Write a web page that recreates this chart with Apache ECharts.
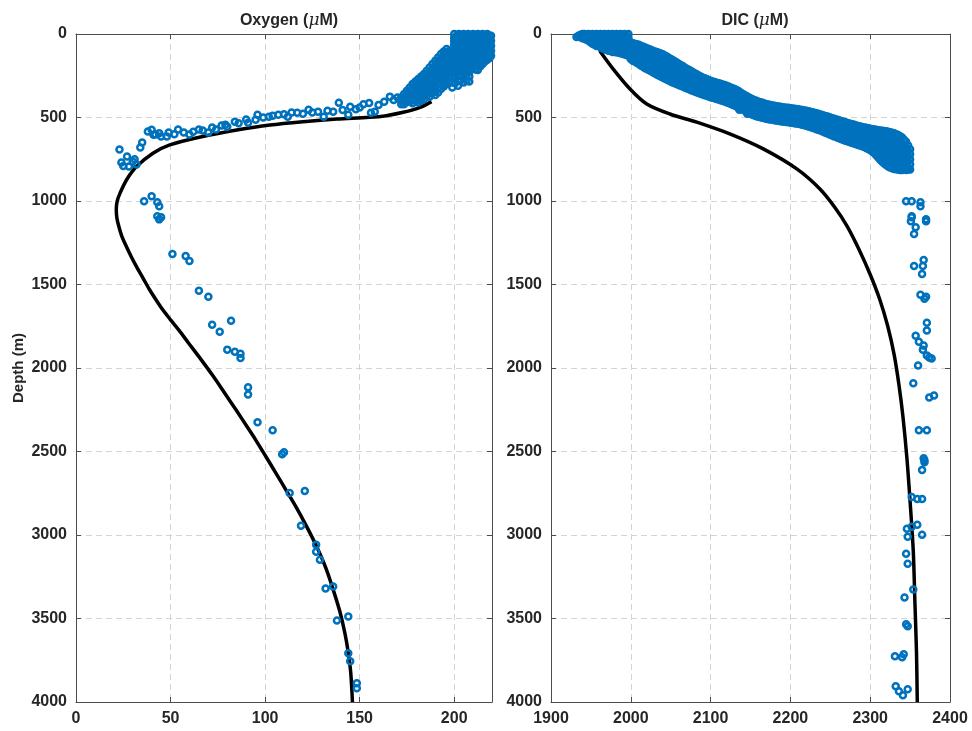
<!DOCTYPE html>
<html><head><meta charset="utf-8">
<script src="https://cdn.jsdelivr.net/npm/echarts@6/dist/echarts.min.js"></script>
<style>html,body{margin:0;padding:0;background:#fff}#c{width:972px;height:731px}</style>
</head><body><div id="c"></div>
<script>
// ---- data ----
const panelTitles = ['Oxygen', 'DIC'];
const depthTicks = [0, 500, 1000, 1500, 2000, 2500, 3000, 3500, 4000];
const oxygenTicks = [0, 50, 100, 150, 200];
const dicTicks = [1900, 2000, 2100, 2200, 2300, 2400];

// model curve: [oxygen, depth]
const oxygenModel = [[188,405],[182,439],[173,469],[164,489],[155,499],[138,509],[120,525],[102.5,545],[85,575],[67,614],[49.6,664],[40.7,714],[32,794],[26.7,874],[23.4,950],[21.8,1000],[21.3,1050],[21.6,1100],[22.6,1150],[24.2,1210],[26.7,1274],[29.3,1335],[32,1393],[35.5,1463],[39,1533],[42.8,1600],[46,1653],[49.9,1710],[54.3,1772],[59.5,1850],[65,1932],[72.6,2050],[78.6,2150],[84.6,2250],[90.4,2350],[95,2430],[100.4,2530],[105.7,2629],[111,2730],[116.2,2829],[122,2950],[127.2,3068],[132.2,3200],[136,3327],[139.5,3457],[142.2,3587],[144,3705],[145.3,3826],[146.2,4000]];

// observations: [oxygen, depth]
const oxygenObs = [
[200,0],[200,22],[200,44],[200,66],[200,88],[200,110],
[202.5,0],[202.5,22],[202.5,44],[202.5,66],[202.5,88],[202.5,110],[202.5,132],
[205,0],[205,22],[205,44],[205,66],[205,88],[205,110],[205,132],[205,154],
[207.5,0],[207.5,22],[207.5,44],[207.5,66],[207.5,88],[207.5,110],[207.5,132],[207.5,154],[207.5,176],[207.5,200],
[210,0],[210,22],[210,44],[210,66],[210,88],[210,110],[210,132],[210,154],[210,176],[210,205],
[212.5,0],[212.5,22],[212.5,44],[212.5,66],[212.5,88],[212.5,110],[212.5,132],[212.5,154],[212.5,176],[212.5,215],
[215,0],[215,22],[215,44],[215,66],[215,88],[215,110],[215,132],[215,154],[215,180],
[217.5,0],[217.5,22],[217.5,44],[217.5,66],[217.5,88],[217.5,110],[217.5,132],[217.5,154],
[219.5,10],[219.5,40],[219.5,70],[219.5,100],[219.5,130],
[201.25,11],[201.25,33],[201.25,55],[201.25,77],[201.25,99],[201.25,121],
[203.75,11],[203.75,33],[203.75,55],[203.75,77],[203.75,99],[203.75,121],[203.75,143],
[206.25,11],[206.25,33],[206.25,55],[206.25,77],[206.25,99],[206.25,121],[206.25,143],[206.25,165],[206.25,190],
[208.75,11],[208.75,33],[208.75,55],[208.75,77],[208.75,99],[208.75,121],[208.75,143],[208.75,165],[208.75,190],[208.75,212],
[211.25,11],[211.25,33],[211.25,55],[211.25,77],[211.25,99],[211.25,121],[211.25,143],[211.25,165],[211.25,190],[211.25,212],
[213.75,11],[213.75,33],[213.75,55],[213.75,77],[213.75,99],[213.75,121],[213.75,143],[213.75,165],[213.75,195],
[216.25,11],[216.25,33],[216.25,55],[216.25,77],[216.25,99],[216.25,121],[216.25,143],[216.25,165],
[218.75,11],[218.75,33],[218.75,55],[218.75,77],[218.75,99],[218.75,121],[218.75,143],
[172,380],[172,400],[172,420],
[175,340],[175,360],[175,385],[175,405],
[178,300],[178,320],[178,345],[178,370],[178,395],[178,415],
[181,270],[181,290],[181,315],[181,340],[181,365],[181,390],[181,410],
[184,240],[184,265],[184,290],[184,315],[184,340],[184,365],[184,390],
[187,200],[187,225],[187,250],[187,275],[187,300],[187,325],[187,350],[187,375],
[190,160],[190,185],[190,210],[190,235],[190,260],[190,285],[190,310],[190,340],[190,365],
[193,120],[193,145],[193,170],[193,195],[193,220],[193,245],[193,270],[193,300],[193,330],
[196,90],[196,115],[196,140],[196,165],[196,190],[196,215],[196,240],[196,270],[196,300],
[199,130],[199,155],[199,180],[199,205],[199,230],[199,260],[199,290],[199,320],
[202,150],[202,175],[202,200],[202,225],[202,250],[202,280],[202,310],
[205,180],[205,205],[205,230],[205,260],[205,290],
[208,225],[208,255],[208,285],
[173.5,360],[173.5,380],[173.5,400],[173.5,420],
[176.5,320],[176.5,340],[176.5,362],[176.5,385],[176.5,405],
[179.5,285],[179.5,305],[179.5,330],[179.5,355],[179.5,380],[179.5,400],
[182.5,255],[182.5,278],[182.5,300],[182.5,325],[182.5,350],[182.5,375],[182.5,400],
[185.5,220],[185.5,245],[185.5,270],[185.5,295],[185.5,320],[185.5,345],[185.5,370],
[188.5,180],[188.5,205],[188.5,230],[188.5,255],[188.5,280],[188.5,305],[188.5,330],[188.5,355],
[191.5,140],[191.5,165],[191.5,190],[191.5,215],[191.5,240],[191.5,265],[191.5,290],[191.5,320],[191.5,350],
[194.5,105],[194.5,130],[194.5,155],[194.5,180],[194.5,205],[194.5,230],[194.5,255],[194.5,285],[194.5,315],
[197.5,100],[197.5,125],[197.5,150],[197.5,175],[197.5,200],[197.5,225],[197.5,255],[197.5,285],
[200.5,140],[200.5,165],[200.5,190],[200.5,215],[200.5,240],[200.5,265],[200.5,295],
[203.5,165],[203.5,190],[203.5,215],[203.5,245],[203.5,275],
[206.5,200],[206.5,225],[206.5,250],[206.5,280],
[168,395],[163,405],[166,375],[155,413],[156,471],[158,465],[150,440],[145,435],[144,483],[139,411],[136,465],[131,495],[128,465],[123,453],[117,471],[112,495],[107,483],[102,495],[96,483],[95,513],[91,531],[84,525],[80,555],[79,543],[74,572],[70,590],[65,572],[60,602],[54,572],[49,590],[45,614],[42,602],[38,584],[35,650],[34,680],[23,692],[24,769],[27,733],[30,763],[32,781],[28,793],[25,790],[31,750],[40,574],[41,604],[44,594],[48,614],[52,600],[57,590],[62,585],[67,578],[72,560],[77,548],[86,535],[90,512],[99,500],[104,490],[110,480],[114,470],[120,478],[125,470],[133,460],[141,455],[148,450],[152,420],[160,425],[170,380],
[36,1001],[40,972],[43,1007],[44,1031],[43,1091],[45,1097],[44,1110],
[51,1317],[58,1329],[60,1359],[65,1538],[70,1574],[82,1717],[72,1741],[76,1783],[80,1890],[84,1902],[87,1914],[87,1940],[91,2116],[91,2158],[96,2325],[104,2373],[110,2504],[109,2516],[113,2748],[121,2736],[119,2945],[127,3058],[127,3100],[129,3148],[132,3320],[136,3308],[144,3488],[138,3512],[144,3708],[145,3756],[148.5,3887],[148.5,3917]
];

// model curve: [DIC, depth]
const dicModel = [[1961,100],[1978,210],[1999,329],[2020,419],[2049,479],[2082.6,528],[2124,598],[2166,688],[2208,808],[2237,928],[2256,1040],[2271,1150],[2286,1290],[2300,1440],[2312,1590],[2322,1750],[2330,1920],[2336,2100],[2341,2290],[2346,2540],[2350,2800],[2354,3100],[2356,3400],[2358,3700],[2359,4000]];

// observations: [DIC, depth]
const dicObs = [
[1932,18],[1937,5],[1937,20],[1942,0],[1942,15],[1942,28],[1947,0],[1947,14],[1947,28],[1947,40],
[1952,0],[1952,15],[1952,30],[1952,45],[1952,58],[1957,0],[1957,15],[1957,30],[1957,45],[1957,60],[1957,72],
[1962,0],[1962,16],[1962,32],[1962,48],[1962,64],[1962,80],[1967,0],[1967,16],[1967,32],[1967,48],[1967,64],[1967,80],[1967,92],
[1972,0],[1972,17],[1972,34],[1972,51],[1972,68],[1972,85],[1972,100],[1977,0],[1977,18],[1977,36],[1977,54],[1977,72],[1977,90],[1977,108],
[1982,0],[1982,18],[1982,36],[1982,54],[1982,72],[1982,90],[1982,110],[1987,0],[1987,18],[1987,36],[1987,54],[1987,72],[1987,92],[1987,115],
[1992,0],[1992,18],[1992,36],[1992,54],[1992,72],[1992,95],[1992,122],[1997,0],[1997,20],[1997,40],[1997,60],[1997,82],[1997,105],[1997,130],
[1934.5,10],[1939.5,0],[1939.5,12],[1939.5,25],[1944.5,8],[1944.5,22],[1944.5,35],[1949.5,8],[1949.5,22],[1949.5,37],[1949.5,50],
[1954.5,8],[1954.5,22],[1954.5,38],[1954.5,52],[1954.5,65],[1959.5,8],[1959.5,24],[1959.5,40],[1959.5,56],[1959.5,72],
[1964.5,8],[1964.5,24],[1964.5,40],[1964.5,56],[1964.5,72],[1964.5,86],[1969.5,8],[1969.5,25],[1969.5,42],[1969.5,60],[1969.5,77],[1969.5,95],
[1974.5,9],[1974.5,27],[1974.5,45],[1974.5,63],[1974.5,80],[1974.5,100],[1979.5,9],[1979.5,27],[1979.5,45],[1979.5,63],[1979.5,81],[1979.5,105],
[1984.5,9],[1984.5,27],[1984.5,45],[1984.5,63],[1984.5,82],[1984.5,110],[1989.5,9],[1989.5,27],[1989.5,45],[1989.5,64],[1989.5,85],[1989.5,118],
[1994.5,9],[1994.5,28],[1994.5,48],[1994.5,68],[1994.5,90],[1994.5,125],
[2000,50],[2000,70],[2000,90],[2000,110],[2000,130],[2000,150],
[2005,58],[2005,80],[2005,100],[2005,122],[2005,145],[2005,165],
[2010,65],[2010,88],[2010,110],[2010,135],[2010,158],[2010,180],
[2015,75],[2015,100],[2015,122],[2015,148],[2015,172],[2015,195],
[2020,85],[2020,110],[2020,135],[2020,160],[2020,185],[2020,210],
[2025,95],[2025,120],[2025,145],[2025,172],[2025,198],[2025,222],
[2030,105],[2030,130],[2030,158],[2030,183],[2030,210],[2030,235],
[2035,112],[2035,140],[2035,167],[2035,195],[2035,222],[2035,248],
[2040,122],[2040,150],[2040,178],[2040,205],[2040,232],[2040,260],
[2045,135],[2045,162],[2045,190],[2045,218],[2045,245],[2045,272],
[2050,150],[2050,177],[2050,204],[2050,231],[2050,258],[2050,285],
[2055,163],[2055,190],[2055,216],[2055,242],[2055,268],[2055,295],
[2060,178],[2060,203],[2060,228],[2060,254],[2060,280],[2060,305],
[2065,192],[2065,217],[2065,241],[2065,266],[2065,290],[2065,315],
[2070,208],[2070,231],[2070,255],[2070,278],[2070,302],[2070,325],
[2075,220],[2075,243],[2075,266],[2075,289],[2075,312],[2075,335],
[2080,235],[2080,257],[2080,279],[2080,301],[2080,323],[2080,345],
[2085,248],[2085,269],[2085,290],[2085,311],[2085,332],[2085,353],
[2090,260],[2090,280],[2090,301],[2090,321],[2090,342],[2090,362],
[2095,270],[2095,290],[2095,310],[2095,330],[2095,350],[2095,370],
[2100,280],[2100,300],[2100,319],[2100,339],[2100,358],[2100,378],
[2105,288],[2105,307],[2105,327],[2105,346],[2105,366],[2105,385],
[2110,295],[2110,314],[2110,334],[2110,353],[2110,373],[2110,392],
[2115,302],[2115,322],[2115,341],[2115,361],[2115,380],[2115,400],
[2120,310],[2120,330],[2120,349],[2120,369],[2120,388],[2120,408],
[2125,320],[2125,340],[2125,359],[2125,379],[2125,398],[2125,418],
[2130,330],[2130,350],[2130,369],[2130,389],[2130,408],[2130,428],
[2135,342],[2135,362],[2135,381],[2135,401],[2135,420],[2135,440],
[2140,358],[2140,377],[2140,396],[2140,414],[2140,433],[2140,452],
[2145,372],[2145,391],[2145,409],[2145,428],[2145,446],[2145,465],
[2150,385],[2150,404],[2150,422],[2150,441],[2150,459],[2150,478],
[2155,396],[2155,414],[2155,433],[2155,451],[2155,470],[2155,488],
[2160,405],[2160,423],[2160,441],[2160,460],[2160,478],[2160,496],
[2165,412],[2165,430],[2165,448],[2165,466],[2165,484],[2165,502],
[2170,420],[2170,438],[2170,455],[2170,473],[2170,490],[2170,508],
[2175,425],[2175,442],[2175,460],[2175,477],[2175,495],[2175,512],
[2180,430],[2180,447],[2180,464],[2180,482],[2180,499],[2180,516],
[2185,434],[2185,451],[2185,468],[2185,486],[2185,503],[2185,520],
[2190,438],[2190,455],[2190,472],[2190,490],[2190,507],[2190,524],
[2195,441],[2195,458],[2195,475],[2195,493],[2195,510],[2195,527],
[2200,444],[2200,461],[2200,478],[2200,496],[2200,513],[2200,530],
[2205,447],[2205,464],[2205,482],[2205,499],[2205,517],[2205,534],
[2210,451],[2210,468],[2210,486],[2210,503],[2210,521],[2210,538],
[2215,455],[2215,473],[2215,490],[2215,508],[2215,525],[2215,543],
[2220,460],[2220,478],[2220,496],[2220,514],[2220,532],[2220,550],
[2225,466],[2225,484],[2225,502],[2225,521],[2225,539],[2225,557],
[2230,472],[2230,491],[2230,509],[2230,528],[2230,546],[2230,565],
[2235,478],[2235,497],[2235,516],[2235,536],[2235,555],[2235,574],
[2240,485],[2240,505],[2240,524],[2240,544],[2240,563],[2240,583],
[2245,492],[2245,512],[2245,532],[2245,553],[2245,573],[2245,593],
[2250,500],[2250,521],[2250,541],[2250,562],[2250,582],[2250,603],
[2255,508],[2255,529],[2255,550],[2255,571],[2255,592],[2255,613],
[2260,515],[2260,536],[2260,558],[2260,579],[2260,601],[2260,622],
[2265,523],[2265,545],[2265,566],[2265,588],[2265,609],[2265,631],
[2270,530],[2270,552],[2270,574],[2270,596],[2270,618],[2270,640],
[2275,537],[2275,559],[2275,581],[2275,604],[2275,626],[2275,648],
[2280,544],[2280,566],[2280,589],[2280,611],[2280,634],[2280,656],
[2285,551],[2285,574],[2285,596],[2285,619],[2285,641],[2285,664],
[2290,557],[2290,580],[2290,603],[2290,626],[2290,649],[2290,672],
[2295,562],[2295,586],[2295,610],[2295,634],[2295,658],[2295,682],
[2300,567],[2300,593],[2300,618],[2300,644],[2300,669],[2300,695],
[2305,572],[2305,600],[2305,628],[2305,656],[2305,684],[2305,712],
[2310,576],[2310,603],[2310,631],[2310,658],[2310,686],[2310,713],[2310,740],
[2315,579],[2315,610],[2315,641],[2315,672],[2315,703],[2315,734],[2315,765],
[2320,583],[2320,617],[2320,650],[2320,684],[2320,718],[2320,751],[2320,785],
[2325,588],[2325,623],[2325,659],[2325,694],[2325,729],[2325,765],[2325,800],
[2330,595],[2330,630],[2330,666],[2330,701],[2330,737],[2330,772],[2330,808],
[2335,605],[2335,640],[2335,674],[2335,709],[2335,743],[2335,778],[2335,812],
[2340,620],[2340,653],[2340,685],[2340,718],[2340,750],[2340,783],[2340,815],
[2345,645],[2345,679],[2345,713],[2345,747],[2345,781],[2345,815],
[2350,690],[2350,720],[2350,750],[2350,780],[2350,812],
[2002.5,55],[2002.5,75],[2002.5,98],[2002.5,120],[2002.5,143],[2002.5,160],
[2007.5,62],[2007.5,85],[2007.5,107],[2007.5,130],[2007.5,152],[2007.5,172],
[2012.5,70],[2012.5,95],[2012.5,118],[2012.5,142],[2012.5,165],[2012.5,188],
[2017.5,80],[2017.5,105],[2017.5,130],[2017.5,155],[2017.5,180],[2017.5,203],
[2022.5,90],[2022.5,115],[2022.5,140],[2022.5,166],[2022.5,192],[2022.5,216],
[2027.5,100],[2027.5,125],[2027.5,152],[2027.5,178],[2027.5,204],[2027.5,229],
[2032.5,108],[2032.5,135],[2032.5,162],[2032.5,189],[2032.5,216],[2032.5,242],
[2037.5,117],[2037.5,145],[2037.5,172],[2037.5,200],[2037.5,228],[2037.5,254],
[2042.5,128],[2042.5,156],[2042.5,184],[2042.5,212],[2042.5,240],[2042.5,266],
[2047.5,142],[2047.5,170],[2047.5,197],[2047.5,225],[2047.5,252],[2047.5,278],
[2052.5,156],[2052.5,183],[2052.5,210],[2052.5,237],[2052.5,263],[2052.5,290],
[2057.5,170],[2057.5,196],[2057.5,222],[2057.5,248],[2057.5,274],[2057.5,300],
[2062.5,185],[2062.5,210],[2062.5,235],[2062.5,260],[2062.5,285],[2062.5,310],
[2067.5,200],[2067.5,224],[2067.5,248],[2067.5,272],[2067.5,296],[2067.5,320],
[2072.5,214],[2072.5,237],[2072.5,260],[2072.5,284],[2072.5,307],[2072.5,330],
[2077.5,228],[2077.5,250],[2077.5,272],[2077.5,295],[2077.5,318],[2077.5,340],
[2082.5,241],[2082.5,263],[2082.5,285],[2082.5,306],[2082.5,328],[2082.5,349],
[2087.5,254],[2087.5,275],[2087.5,295],[2087.5,316],[2087.5,337],[2087.5,358],
[2092.5,265],[2092.5,285],[2092.5,305],[2092.5,326],[2092.5,346],[2092.5,366],
[2097.5,275],[2097.5,295],[2097.5,315],[2097.5,335],[2097.5,354],[2097.5,374],
[2102.5,284],[2102.5,303],[2102.5,323],[2102.5,343],[2102.5,362],[2102.5,382],
[2107.5,292],[2107.5,311],[2107.5,330],[2107.5,350],[2107.5,370],[2107.5,389],
[2112.5,298],[2112.5,318],[2112.5,337],[2112.5,357],[2112.5,376],[2112.5,396],
[2117.5,306],[2117.5,326],[2117.5,345],[2117.5,365],[2117.5,384],[2117.5,404],
[2122.5,315],[2122.5,335],[2122.5,354],[2122.5,374],[2122.5,393],[2122.5,413],
[2127.5,325],[2127.5,345],[2127.5,364],[2127.5,384],[2127.5,403],[2127.5,423],
[2132.5,336],[2132.5,356],[2132.5,375],[2132.5,395],[2132.5,414],[2132.5,434],
[2137.5,350],[2137.5,370],[2137.5,389],[2137.5,408],[2137.5,427],[2137.5,446],
[2142.5,365],[2142.5,384],[2142.5,403],[2142.5,421],[2142.5,440],[2142.5,458],
[2147.5,378],[2147.5,397],[2147.5,416],[2147.5,434],[2147.5,453],[2147.5,471],
[2152.5,390],[2152.5,409],[2152.5,428],[2152.5,446],[2152.5,465],[2152.5,483],
[2157.5,400],[2157.5,419],[2157.5,437],[2157.5,456],[2157.5,474],[2157.5,492],
[2162.5,408],[2162.5,426],[2162.5,445],[2162.5,463],[2162.5,481],[2162.5,499],
[2167.5,416],[2167.5,434],[2167.5,452],[2167.5,469],[2167.5,487],[2167.5,505],
[2172.5,422],[2172.5,440],[2172.5,457],[2172.5,475],[2172.5,492],[2172.5,510],
[2177.5,428],[2177.5,445],[2177.5,462],[2177.5,480],[2177.5,497],[2177.5,514],
[2182.5,432],[2182.5,449],[2182.5,466],[2182.5,484],[2182.5,501],[2182.5,518],
[2187.5,436],[2187.5,453],[2187.5,470],[2187.5,488],[2187.5,505],[2187.5,522],
[2192.5,440],[2192.5,457],[2192.5,474],[2192.5,491],[2192.5,508],[2192.5,526],
[2197.5,442],[2197.5,460],[2197.5,477],[2197.5,494],[2197.5,511],[2197.5,528],
[2202.5,446],[2202.5,463],[2202.5,480],[2202.5,498],[2202.5,515],[2202.5,532],
[2207.5,449],[2207.5,466],[2207.5,484],[2207.5,501],[2207.5,519],[2207.5,536],
[2212.5,453],[2212.5,470],[2212.5,488],[2212.5,505],[2212.5,523],[2212.5,540],
[2217.5,458],[2217.5,476],[2217.5,493],[2217.5,511],[2217.5,529],[2217.5,547],
[2222.5,463],[2222.5,481],[2222.5,499],[2222.5,518],[2222.5,536],[2222.5,554],
[2227.5,469],[2227.5,488],[2227.5,506],[2227.5,524],[2227.5,543],[2227.5,561],
[2232.5,475],[2232.5,494],[2232.5,513],[2232.5,532],[2232.5,551],[2232.5,570],
[2237.5,482],[2237.5,501],[2237.5,520],[2237.5,540],[2237.5,559],[2237.5,578],
[2242.5,489],[2242.5,509],[2242.5,528],[2242.5,548],[2242.5,568],[2242.5,588],
[2247.5,496],[2247.5,516],[2247.5,537],[2247.5,557],[2247.5,578],[2247.5,598],
[2252.5,504],[2252.5,525],[2252.5,546],[2252.5,566],[2252.5,587],[2252.5,608],
[2257.5,512],[2257.5,533],[2257.5,554],[2257.5,575],[2257.5,596],[2257.5,617],
[2262.5,519],[2262.5,541],[2262.5,562],[2262.5,584],[2262.5,605],[2262.5,627],
[2267.5,527],[2267.5,549],[2267.5,570],[2267.5,592],[2267.5,614],[2267.5,636],
[2272.5,534],[2272.5,556],[2272.5,578],[2272.5,600],[2272.5,622],[2272.5,644],
[2277.5,541],[2277.5,563],[2277.5,585],[2277.5,607],[2277.5,630],[2277.5,652],
[2282.5,548],[2282.5,570],[2282.5,593],[2282.5,615],[2282.5,638],[2282.5,660],
[2287.5,554],[2287.5,577],[2287.5,600],[2287.5,623],[2287.5,646],[2287.5,668],
[2292.5,560],[2292.5,583],[2292.5,607],[2292.5,630],[2292.5,654],[2292.5,677],
[2297.5,565],[2297.5,590],[2297.5,614],[2297.5,639],[2297.5,664],[2297.5,688],
[2302.5,570],[2302.5,597],[2302.5,623],[2302.5,650],[2302.5,676],[2302.5,703],
[2307.5,574],[2307.5,602],[2307.5,630],[2307.5,657],[2307.5,685],[2307.5,726],
[2312.5,578],[2312.5,607],[2312.5,636],[2312.5,665],[2312.5,695],[2312.5,724],[2312.5,753],
[2317.5,581],[2317.5,614],[2317.5,646],[2317.5,678],[2317.5,711],[2317.5,743],[2317.5,775],
[2322.5,586],[2322.5,620],[2322.5,655],[2322.5,689],[2322.5,724],[2322.5,758],[2322.5,793],
[2327.5,592],[2327.5,627],[2327.5,663],[2327.5,698],[2327.5,733],[2327.5,769],[2327.5,804],
[2332.5,600],[2332.5,635],[2332.5,670],[2332.5,705],[2332.5,740],[2332.5,775],[2332.5,810],
[2337.5,613],[2337.5,647],[2337.5,680],[2337.5,714],[2337.5,747],[2337.5,781],[2337.5,814],
[2342.5,633],[2342.5,666],[2342.5,699],[2342.5,732],[2342.5,766],[2342.5,799],
[2347.5,668],[2347.5,700],[2347.5,732],[2347.5,764],[2347.5,796],[2347.5,812],
[2136,453],[2146,477],[2137,405],[2153,405],
[2345,1001],[2352,1001],[2363,1007],[2363,1031],[2352,1091],[2370,1109],[2352,1097],[2351,1121],[2370,1121],[2357,1157],[2355,1198],[2355,1389],[2367,1353],[2366,1389],[2365,1437],[2363,1562],[2370,1574],[2368,1586],[2371,1729],[2371,1776],[2357,1807],[2361,1843],[2367,1866],[2366,1890],[2371,1925],[2377,1943],[2374,1937],[2360,1985],[2354,2092],[2374,2176],[2380,2164],[2361,2373],[2371,2373],[2367,2540],[2368,2552],[2368,2564],[2365,2611],[2352,2772],[2359,2784],[2365,2784],[2346,2963],[2352,2951],[2359,2939],[2347,3010],[2365,2999],[2345,3112],[2347,3172],[2354,3327],[2343,3374],[2345,3535],[2347,3547],[2331,3726],[2340,3732],[2342,3714],[2332,3905],[2336,3935],[2341,3959],[2347,3923]
];

// ---- chart ----
const FONT = '"Liberation Sans", Arial, Helvetica, sans-serif';
const TXT = '#262626';
const AX = '#4d4d4d';
const BLUE = '#0072BD';
const plain = v => String(v);

function xAx(gi, ticks, pos, show) {
  const step = ticks[1] - ticks[0];
  return {
    type: 'value', gridIndex: gi, position: pos,
    min: ticks[0], max: gi === 0 ? 220 : ticks[ticks.length - 1], interval: step,
    axisLine: { show: true, onZero: false, lineStyle: { color: AX, width: 1 } },
    axisTick: { show: true, inside: true, length: 5, lineStyle: { color: AX } },
    axisLabel: { show: show, formatter: plain, showMaxLabel: gi === 0 ? false : true, margin: 9, color: TXT, fontFamily: FONT, fontWeight: 'bold', fontSize: 16 },
    splitLine: { show: show, lineStyle: { color: '#d4d4d4', type: [6, 4], width: 1 } }
  };
}
function yAx(gi, pos, show, name) {
  return {
    type: 'value', gridIndex: gi, position: pos, inverse: true,
    min: depthTicks[0], max: depthTicks[depthTicks.length - 1], interval: depthTicks[1] - depthTicks[0],
    name: name || '', nameLocation: 'middle', nameGap: 50,
    nameTextStyle: { color: TXT, fontFamily: FONT, fontWeight: 'bold', fontSize: 15 },
    axisLine: { show: true, onZero: false, lineStyle: { color: AX, width: 1 } },
    axisTick: { show: true, inside: true, length: 5, lineStyle: { color: AX } },
    axisLabel: { show: show, formatter: plain, margin: 9, color: TXT, fontFamily: FONT, fontWeight: 'bold', fontSize: 16 },
    splitLine: { show: show, lineStyle: { color: '#d4d4d4', type: [6, 4], width: 1 } }
  };
}
const titleRich = {
  b: { fontFamily: FONT, fontWeight: 'bold', fontSize: 16, color: TXT },
  i: { fontFamily: '"DejaVu Serif", "Liberation Serif", serif', fontStyle: 'italic', fontWeight: 'normal', fontSize: 17, color: TXT }
};
const chart = echarts.init(document.getElementById('c'), null, { renderer: 'canvas' });
chart.setOption({
  animation: false,
  backgroundColor: '#fff',
  title: [
    { text: '{b|' + panelTitles[0] + ' (}{i|μ}{b|M)}', left: 284, top: 7, textAlign: 'center', textStyle: { rich: titleRich } },
    { text: '{b|' + panelTitles[1] + ' (}{i|μ}{b|M)}', left: 750, top: 7, textAlign: 'center', textStyle: { rich: titleRich } }
  ],
  grid: [
    { left: 76, top: 34, width: 416, height: 668 },
    { left: 551, top: 34, width: 399, height: 668 }
  ],
  xAxis: [
    xAx(0, oxygenTicks, 'bottom', true), xAx(0, oxygenTicks, 'top', false),
    xAx(1, dicTicks, 'bottom', true), xAx(1, dicTicks, 'top', false)
  ],
  yAxis: [
    yAx(0, 'left', true, 'Depth (m)'), yAx(0, 'right', false),
    yAx(1, 'left', true), yAx(1, 'right', false)
  ],
  series: [
    { type: 'line', xAxisIndex: 0, yAxisIndex: 0, data: oxygenModel, smooth: 0.3, showSymbol: false, lineStyle: { color: '#000', width: 3.5 }, z: 2 },
    { type: 'scatter', xAxisIndex: 0, yAxisIndex: 0, data: oxygenObs, symbol: 'circle', symbolSize: 6, large: false, itemStyle: { color: 'rgba(0,0,0,0)', borderColor: BLUE, borderWidth: 2.5, opacity: 1 }, z: 3 },
    { type: 'line', xAxisIndex: 2, yAxisIndex: 2, data: dicModel, smooth: 0.3, showSymbol: false, lineStyle: { color: '#000', width: 3.5 }, z: 2 },
    { type: 'scatter', xAxisIndex: 2, yAxisIndex: 2, data: dicObs, symbol: 'circle', symbolSize: 6, large: false, itemStyle: { color: 'rgba(0,0,0,0)', borderColor: BLUE, borderWidth: 2.5, opacity: 1 }, z: 3 }
  ]
});
</script></body></html>
